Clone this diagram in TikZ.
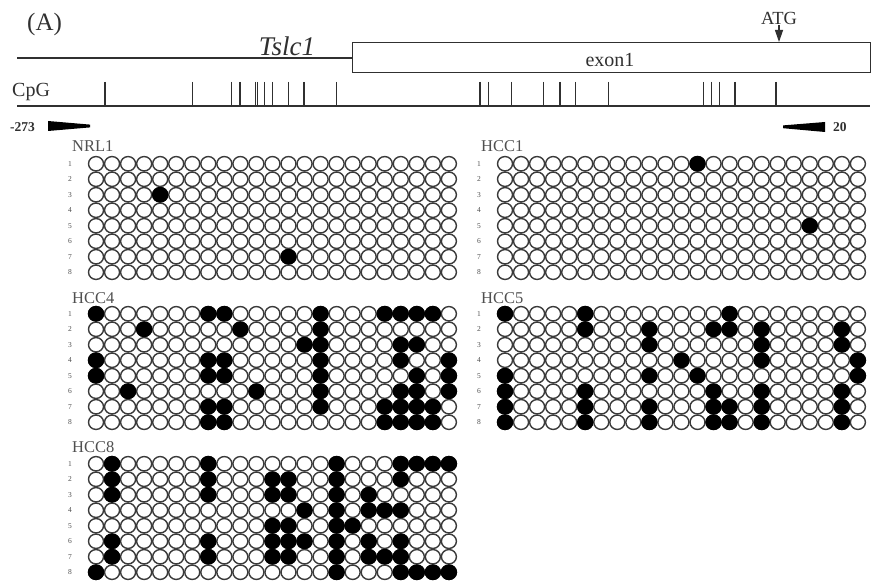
\documentclass[tikz,border=0pt]{standalone}
\usepackage{fontspec}
\setmainfont{Liberation Serif}
\usetikzlibrary{arrows.meta}
\definecolor{ink}{HTML}{303030}
\definecolor{lab}{HTML}{505050}
\definecolor{cellline}{HTML}{3a3a3a}
\tikzset{
  cellw/.style={fill=white, draw=cellline, line width=1.4pt},
  cellb/.style={fill=black, draw=black, line width=1.4pt},
  rownum/.style={text=lab, font=\fontsize{7.5}{8}\selectfont, inner sep=0pt},
  samplelab/.style={text=lab, anchor=base west, inner sep=0pt, font=\fontsize{16.5}{18}\selectfont},
  gline/.style={draw=ink, line width=1.2pt},
  cpgtick/.style={draw=ink, line width=1.1pt},
}
% #1 x0, #2 y0, #3 name, #4 list of row/{cols} that are black
\newcommand\mgrid[4]{%
  \foreach \r in {1,...,8}{%
    \node[rownum] (#3-r\r) at ({#1-18},{#2+15.5*(\r-0.5)}) {\r};
    \foreach \c in {1,...,23}{%
      \draw[cellw] ({#1+16.04*(\c-0.5)},{#2+15.5*(\r-0.5)}) ellipse [x radius=7.5pt, y radius=7.2pt];
    }%
  }%
  \foreach \r/\cs in {#4}{%
    \foreach \c in \cs {%
      \draw[cellb] ({#1+16.04*(\c-0.5)},{#2+15.5*(\r-0.5)}) ellipse [x radius=7.5pt, y radius=7.2pt];
    }%
  }%
}
\begin{document}
\begin{tikzpicture}[x=1pt, y=-1pt]
\useasboundingbox (0,0) rectangle (877,585);
\fill[white] (0,0) rectangle (877,585);

% header
\node[anchor=base west, inner sep=0pt, text=ink, font=\fontsize{25}{27}\selectfont] (lblA) at (27,31) {(A)};
\node[anchor=base, inner sep=0pt, text=ink, font=\itshape\fontsize{27}{29}\selectfont] (gene) at (287,56) {Tslc1};
\coordinate (lineL) at (17,58);
\coordinate (lineR) at (352,58);
\draw[gline] (lineL) -- (lineR);
\node[draw=ink, line width=1.2pt, minimum width=518pt, minimum height=30pt, inner sep=0pt, anchor=north west] (exon) at (352,42) {};
\node[anchor=base, inner sep=0pt, text=ink, font=\fontsize{20}{22}\selectfont] (exonlab) at (610,67) {exon1};
\node[anchor=base, inner sep=0pt, text=ink, font=\fontsize{18.5}{20}\selectfont] (atg) at (779,25) {ATG};
\coordinate (atgtip) at (779,42);
\draw[draw=ink, line width=1.2pt, -{Triangle[width=8pt,length=12pt]}] (atg.south) -- (atgtip);

\node[anchor=base west, inner sep=0pt, text=ink, font=\fontsize{20}{22}\selectfont] (cpg) at (12,97) {CpG};
\coordinate (baseL) at (17,106);
\coordinate (baseR) at (870,106);
\draw[gline] (baseL) -- (baseR);
\foreach \t in {105,192.7,231.7,240,255.3,257.7,264.3,272.7,288.3,304,336.7,480,488.3,511.7,543.3,560,575.7,608.3,703.3,711.7,719.3,735,776}{
  \draw[cpgtick] (\t,82) -- (\t,106);
}

\node[anchor=base west, inner sep=0pt, text=ink, font=\bfseries\fontsize{13.5}{16}\selectfont] (p1) at (10,132) {-273};
\fill[black] (48,121) -- (90,124.6) -- (90,127.4) -- (48,131) -- cycle;
\fill[black] (825,122) -- (783,125.4) -- (783,128.2) -- (825,132) -- cycle;
\node[anchor=base west, inner sep=0pt, text=ink, font=\bfseries\fontsize{13.5}{16}\selectfont] (p2) at (833,132) {20};

% sample labels
\node[samplelab] (nrl1) at (72,152) {NRL1};
\node[samplelab] (hcc1) at (481,152) {HCC1};
\node[samplelab] (hcc4) at (72,303) {HCC4};
\node[samplelab] (hcc5) at (481,303) {HCC5};
\node[samplelab] (hcc8) at (72,452) {HCC8};

% grids
\mgrid{88}{156}{g1}{3/{5}, 7/{13}}
\mgrid{497}{156}{g2}{1/{13}, 5/{20}}
\mgrid{88}{306}{g3}{1/{1,8,9,15,19,20,21,22}, 2/{4,10,15}, 3/{14,15,20,21}, 4/{1,8,9,15,20,23}, 5/{1,8,9,15,21,23}, 6/{3,11,15,20,21,23}, 7/{8,9,15,19,20,21,22}, 8/{8,9,19,20,21,22}}
\mgrid{497}{306}{g4}{1/{1,6,15}, 2/{6,10,14,15,17,22}, 3/{10,17,22}, 4/{12,17,23}, 5/{1,10,13,23}, 6/{1,6,14,17,22}, 7/{1,6,10,14,15,17,22}, 8/{1,6,10,14,15,17,22}}
\mgrid{88}{456}{g5}{1/{2,8,16,20,21,22,23}, 2/{2,8,12,13,16,20}, 3/{2,8,12,13,16,18}, 4/{14,16,18,19,20}, 5/{12,13,16,17}, 6/{2,8,12,13,14,16,18,20}, 7/{2,8,12,13,16,18,19,20}, 8/{1,16,20,21,22,23}}
\end{tikzpicture}
\end{document}
